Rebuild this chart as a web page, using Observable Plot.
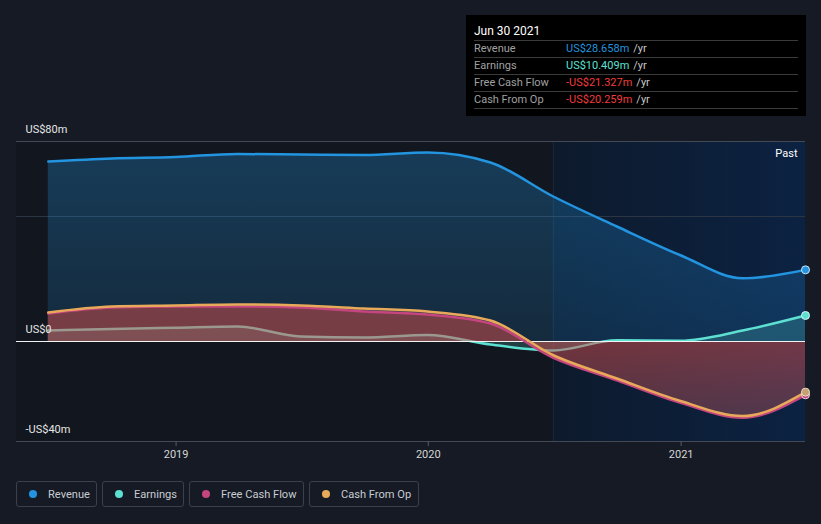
<!DOCTYPE html>
<html>
<head>
<meta charset="utf-8">
<script src="https://cdn.jsdelivr.net/npm/d3@7"></script>
<script src="https://cdn.jsdelivr.net/npm/@observablehq/plot@0.6"></script>
<style>
  html, body { margin: 0; padding: 0; background: #151a24; font-family: Roboto, "Noto Sans", sans-serif; }
  #wrap { position: relative; width: 821px; height: 524px; overflow: hidden; }
  #tip { position: absolute; left: 466px; top: 15px; width: 340px; height: 101px; background: #000; box-sizing: border-box; padding: 0 8px; }
  #tip .date { color: #fff; font-size: 12px; height: 25px; line-height: 32px; border-bottom: 1px solid #3a3a3a; }
  #tip .row { height: 16px; line-height: 16px; font-size: 11px; border-bottom: 1px solid #3a3a3a; color: #a0a0a0; display: flex; }
  #tip .row .lab { width: 92px; }
  #tip .row .unit { color: #c8c8c8; margin-left: 4px; }
  #legend { position: absolute; left: 16px; top: 481px; display: flex; gap: 5px; }
  #legend .item { height: 26px; border: 1px solid #3b404b; border-radius: 3px; box-sizing: border-box; display: flex; align-items: center; padding: 0 0 0 12px; color: #c8ccd2; font-size: 11.1px; }
  #legend .item:nth-child(1) { width: 81px; }
  #legend .item:nth-child(2) { width: 82px; }
  #legend .item:nth-child(3) { width: 115px; }
  #legend .item:nth-child(4) { width: 110px; }
  #legend .dot { width: 8px; height: 8px; border-radius: 50%; margin-right: 11px; flex: none; }
  #chart { position: absolute; left: 0; top: 0; }
</style>
</head>
<body>
<div id="wrap">
  <div id="chart"></div>
  <div id="tip"></div>
  <div id="legend"></div>
</div>
<script>
const dates = ["2018-06-30","2018-09-30","2018-12-31","2019-03-31","2019-06-30","2019-09-30","2019-12-31","2020-03-31","2020-06-30","2020-09-30","2020-12-31","2021-03-31","2021-06-30"];
const revenue  = [72.0, 73.2, 73.8, 75.0, 74.8, 74.6, 75.6, 71.6, 58.0, 46.0, 34.5, 25.3, 28.658];
const earnings = [4.4, 5.0, 5.5, 6.0, 2.0, 1.6, 2.6, -1.2, -3.6, 0.5, 0.3, 4.4, 10.409];
const fcf      = [11.2, 13.6, 14.0, 14.0, 13.6, 12.0, 10.8, 7.2, -6.5, -15.5, -24.5, -30.5, -21.327];
const cfo      = [11.6, 14.0, 14.4, 14.8, 14.4, 13.2, 12.0, 8.4, -5.5, -14.8, -23.8, -29.8, -20.259];

const seriesNames = ["Revenue", "Earnings", "Free Cash Flow", "Cash From Op"];
const seriesColors = ["#2394df", "#5de0d2", "#c4457f", "#e8aa5a"];
const tipValues = ["US$28.658m", "US$10.409m", "-US$21.327m", "-US$20.259m"];
const tipColors = ["#2394df", "#5de0d2", "#f03c3c", "#f03c3c"];
const tipDate = "Jun 30 2021";

const yTicks = [80, 0, -40];
const yTickLabels = ["US$80m", "US$0", "-US$40m"];
const gridValues = [80, 50, -40];
const xTicks = ["2019-01-01", "2020-01-01", "2021-01-01"];
const xDomain = ["2018-05-15", "2021-06-30"];
const pastStart = "2020-06-30";

const parse = d3.utcParse("%Y-%m-%d");
const rows = dates.map((d, i) => ({date: parse(d), revenue: revenue[i], earnings: earnings[i], fcf: fcf[i], cfo: cfo[i]}));
const last = rows[rows.length - 1];
const x0 = parse(xDomain[0]), x1 = parse(xDomain[1]), xp = parse(pastStart);

const defs = () => {
  const svg = d3.create("svg:defs");
  const g1 = svg.append("linearGradient").attr("id", "pastGrad").attr("x1", "0").attr("x2", "1").attr("y1", "0").attr("y2", "0");
  g1.append("stop").attr("offset", "0").attr("stop-color", "#0d1a2c");
  g1.append("stop").attr("offset", "1").attr("stop-color", "#0c2242");
  const g2 = svg.append("linearGradient").attr("id", "revGrad").attr("gradientUnits", "userSpaceOnUse").attr("x1", "0").attr("x2", "0").attr("y1", "150").attr("y2", "341");
  g2.append("stop").attr("offset", "0").attr("stop-color", "#2394df").attr("stop-opacity", 0.3);
  g2.append("stop").attr("offset", "1").attr("stop-color", "#2394df").attr("stop-opacity", 0.16);
  const g3 = svg.append("linearGradient").attr("id", "fcfGrad").attr("gradientUnits", "userSpaceOnUse").attr("x1", "0").attr("x2", "0").attr("y1", "341").attr("y2", "420");
  g3.append("stop").attr("offset", "0").attr("stop-color", "#d83a4a").attr("stop-opacity", 0.4);
  g3.append("stop").attr("offset", "1").attr("stop-color", "#b03a6a").attr("stop-opacity", 0.25);
  return svg.node();
};

const chart = Plot.plot({
  width: 821,
  height: 470,
  marginLeft: 16,
  marginRight: 16,
  marginTop: 141,
  marginBottom: 29,
  style: {background: "transparent", fontFamily: "Roboto, sans-serif"},
  x: {type: "utc", domain: [x0, x1]},
  y: {domain: [-40, 80], axis: null},
  marks: [
    defs,
    Plot.rect([{a: x0, b: xp}], {x1: "a", x2: "b", y1: -40, y2: 80, fill: "#12161e"}),
    Plot.rect([{a: xp, b: x1}], {x1: "a", x2: "b", y1: -40, y2: 80, fill: "url(#pastGrad)"}),
    Plot.ruleX([xp], {y1: -40, y2: 80, stroke: "#1c2a3c", strokeWidth: 1}),
    Plot.ruleY(gridValues, {stroke: (d) => d === 50 ? "#2b3544" : "#434955", strokeWidth: 1}),
    Plot.areaY(rows, {x: "date", y1: 0, y2: "revenue", fill: "url(#revGrad)", curve: "monotone-x"}),
    Plot.areaY(rows, {x: "date", y1: 0, y2: "earnings", fill: "#5de0d2", fillOpacity: 0.2, curve: "monotone-x"}),
    Plot.lineY(rows, {x: "date", y: "earnings", stroke: "#5de0d2", strokeWidth: 2.5, curve: "monotone-x"}),
    Plot.areaY(rows, {x: "date", y1: 0, y2: "cfo", fill: "#e8aa5a", fillOpacity: 0.16, curve: "monotone-x"}),
    Plot.areaY(rows, {x: "date", y1: 0, y2: "fcf", fill: "url(#fcfGrad)", curve: "monotone-x"}),
    Plot.ruleY([0], {stroke: "#f2f2f2", strokeWidth: 1.2}),
    Plot.lineY(rows, {x: "date", y: "fcf", stroke: "#c4457f", strokeWidth: 2.5, curve: "monotone-x"}),
    Plot.lineY(rows, {x: "date", y: "cfo", stroke: "#e8aa5a", strokeWidth: 2.5, curve: "monotone-x"}),
    Plot.lineY(rows, {x: "date", y: "revenue", stroke: "#2394df", strokeWidth: 2.5, curve: "monotone-x"}),
    Plot.dot([last], {x: "date", y: "revenue", r: 4, fill: "#2394df", stroke: "#cfe6f8", strokeWidth: 1}),
    Plot.dot([last], {x: "date", y: "earnings", r: 4, fill: "#5de0d2", stroke: "#d8f6f2", strokeWidth: 1}),
    Plot.dot([last], {x: "date", y: "fcf", r: 4, fill: "#c4457f", stroke: "#e8d0dc", strokeWidth: 1}),
    Plot.dot([last], {x: "date", y: "cfo", r: 4, fill: "#c8a070", stroke: "#e8dcc8", strokeWidth: 1}),
    Plot.text(["Past"], {x: x1, y: 80, dx: -8, dy: 12, text: (d) => d, textAnchor: "end", fill: "#ffffff", fontSize: 11}),
    Plot.text(yTicks, {x: x0, y: (d) => d, dx: 9, dy: -12, text: (d, i) => yTickLabels[i], textAnchor: "start", fill: "#e6e6e6", fontSize: 11}),
    Plot.axisX(xTicks.map(parse), {tickSize: 5, stroke: "#555b66", color: "#d6d6d6", fontSize: 11, tickFormat: d3.utcFormat("%Y"), tickPadding: 4, label: null})
  ]
});
document.getElementById("chart").appendChild(chart);

const tip = document.getElementById("tip");
tip.innerHTML = `<div class="date">${tipDate}</div>` + seriesNames.map((n, i) =>
  `<div class="row"><span class="lab">${n}</span><span style="color:${tipColors[i]}">${tipValues[i]}</span><span class="unit">/yr</span></div>`).join("");

const legend = document.getElementById("legend");
legend.innerHTML = seriesNames.map((n, i) =>
  `<div class="item"><span class="dot" style="background:${seriesColors[i]}"></span>${n}</div>`).join("");
</script>
</body>
</html>
